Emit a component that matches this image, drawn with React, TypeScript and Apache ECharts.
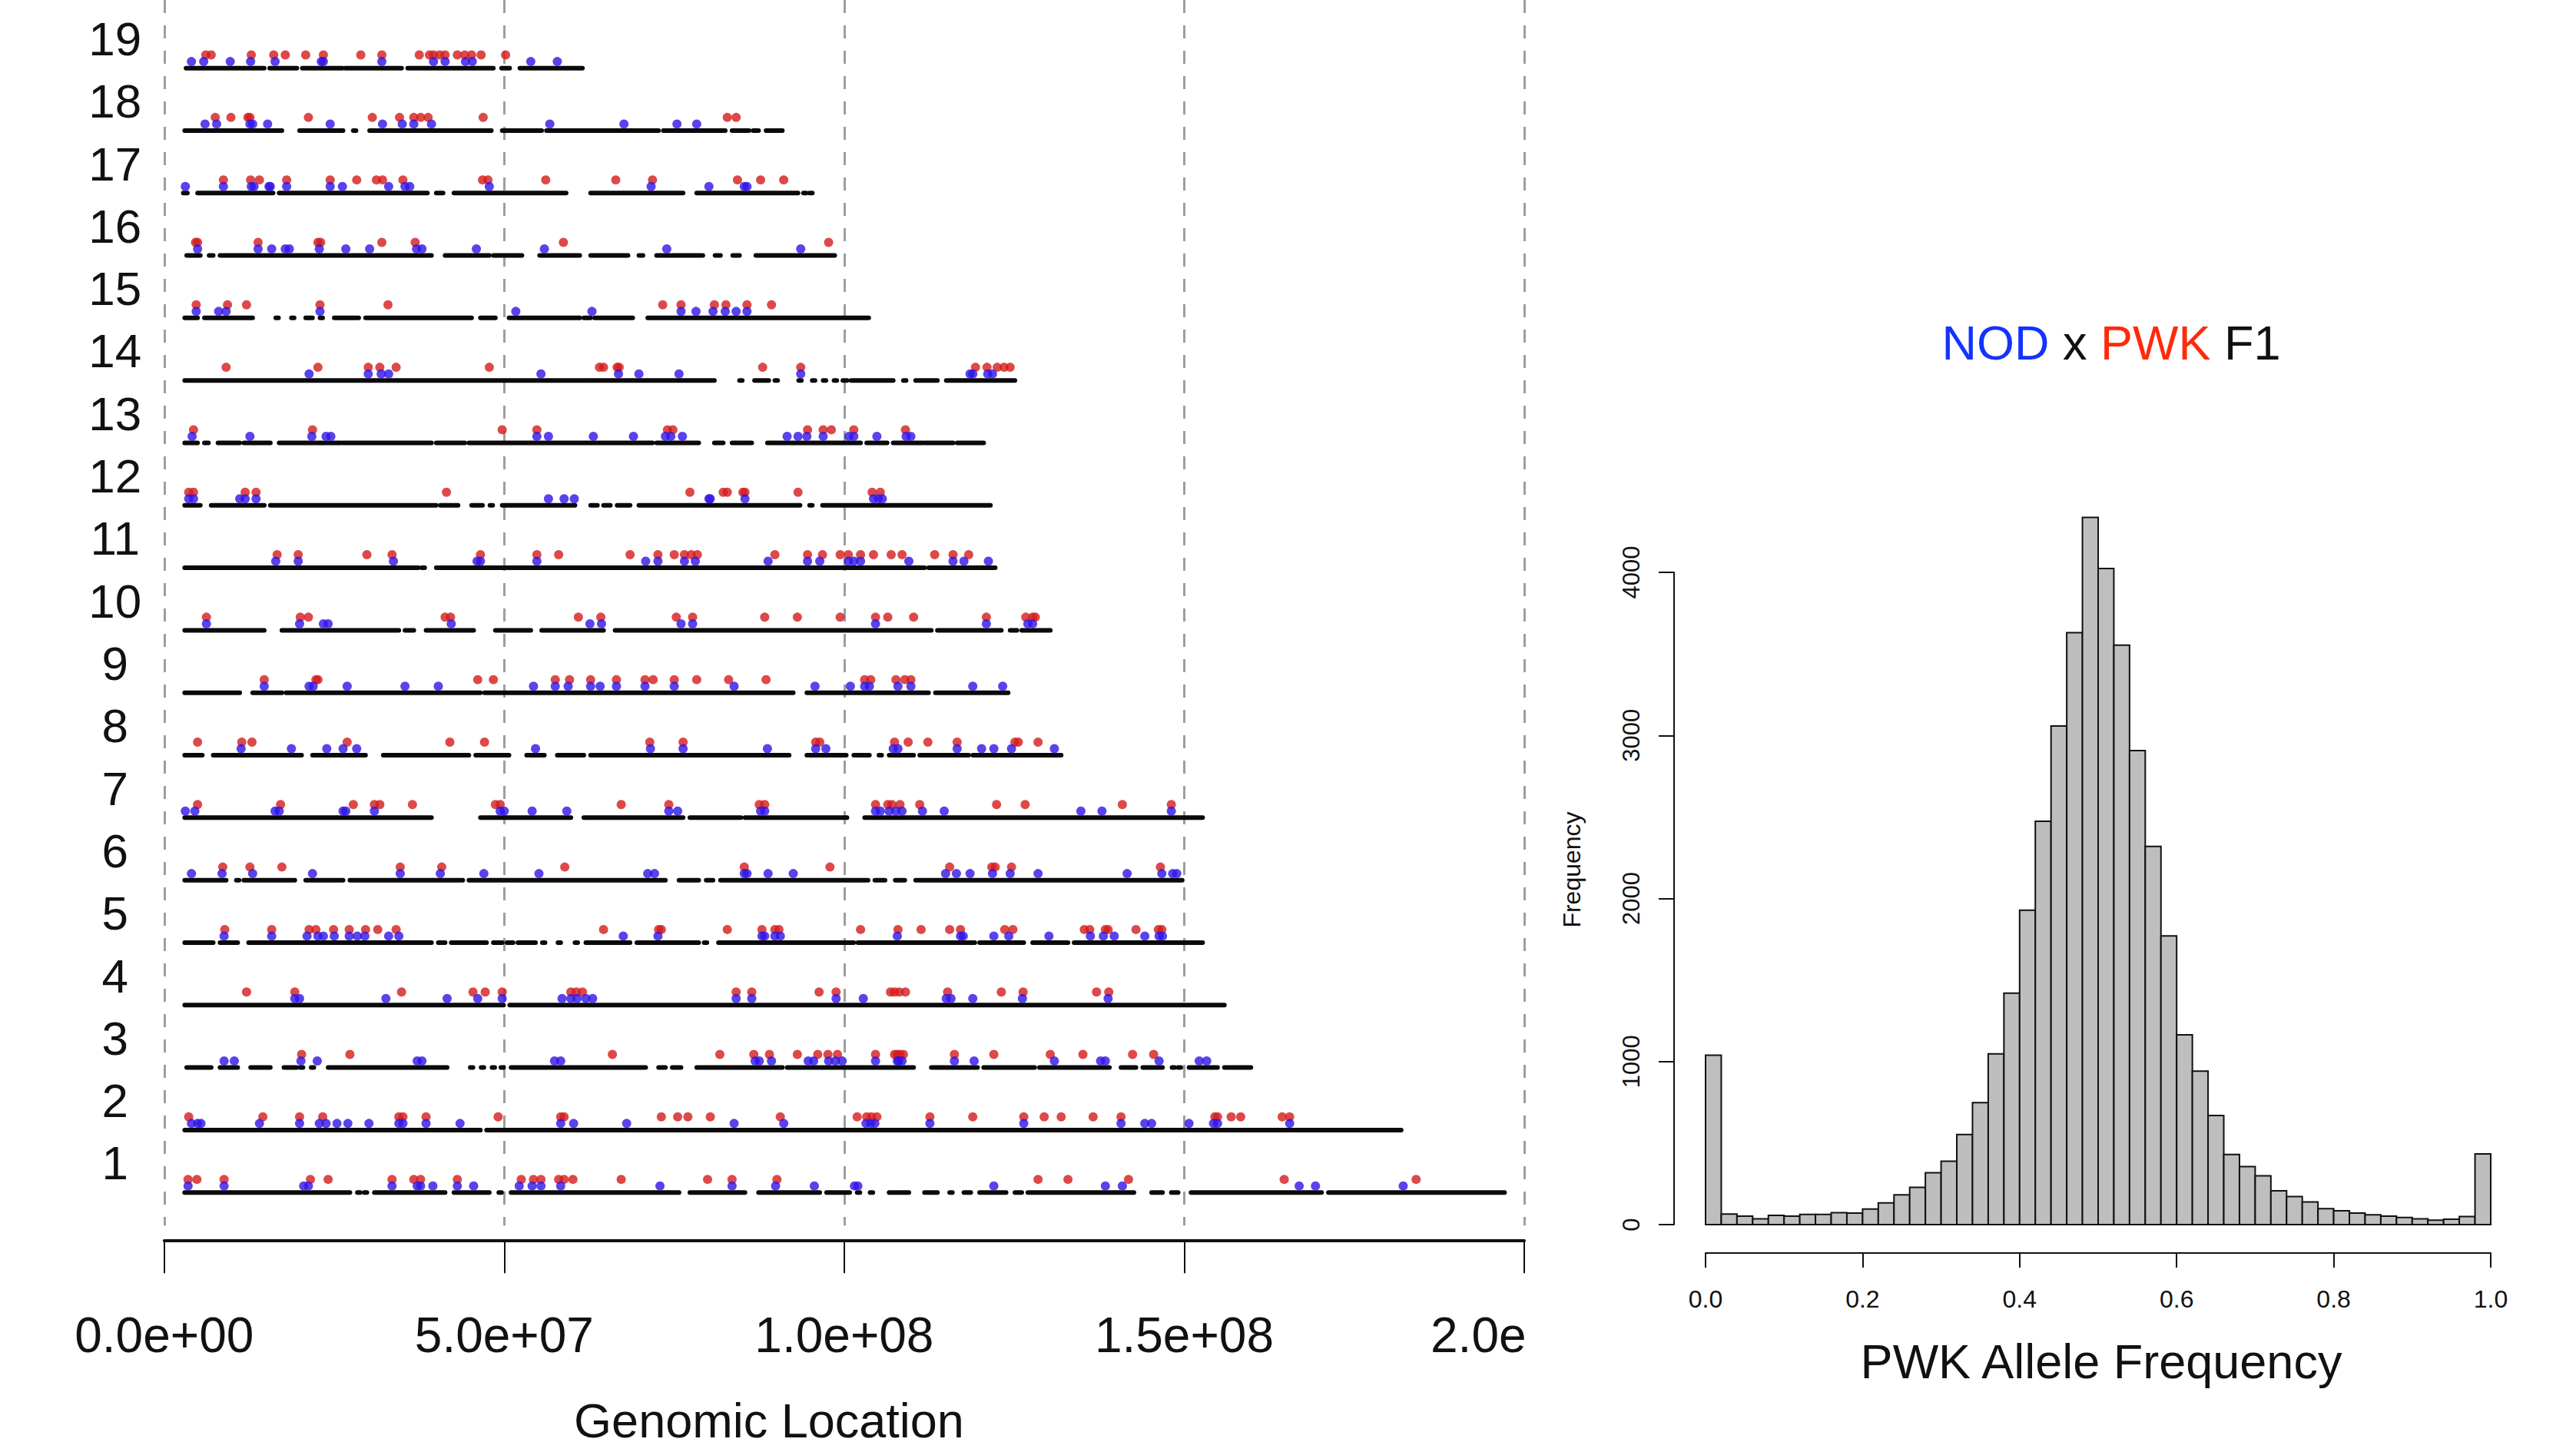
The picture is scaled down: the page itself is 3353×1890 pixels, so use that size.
import React, { useEffect, useRef } from 'react';
import * as echarts from 'echarts';

const FONT = '"Liberation Sans", Arial, Helvetica, sans-serif';

// ---------- Left panel: chromosome rows (positions in Mb) ----------
const runs1 = [[3.0,27.3],[28.4,28.8],[29.4,29.8],[30.9,41.3],[42.6,47.8],[49.2,49.6],[51.0,75.7],[77.3,85.4],[87.4,96.4],[97.4,100.8],[101.9,102.3],[103.8,104.2],[106.6,109.5],[111.8,113.7],[115.5,115.9],[117.6,118.6],[119.9,123.8],[125.1,126.1],[127.0,142.6],[145.2,146.8],[148.1,149.1],[151.0,170.2],[171.2,197.1]];
const nod1 = [3.5,8.8,20.5,21.2,33.5,37.2,37.7,39.5,43.1,45.5,52.2,54.1,55.4,58.3,72.9,83.5,89.9,95.6,101.5,102.0,122.0,138.4,140.9,166.9,169.3,182.2];
const pwk1 = [3.5,4.8,8.8,21.5,24.1,33.5,36.7,37.7,43.1,52.5,54.3,55.4,58.0,58.8,60.1,67.2,79.9,83.5,90.1,128.5,132.9,141.8,164.7,184.1];

const runs2 = [[3.0,46.5],[47.4,181.9]];
const nod2 = [4.0,4.9,5.4,14.0,19.9,22.8,23.8,25.4,27.0,30.1,34.5,35.1,38.5,43.5,58.3,60.2,68.0,83.8,91.1,103.2,103.9,104.5,112.6,126.4,140.7,144.2,145.2,150.7,154.3,154.9,165.5];
const pwk2 = [3.6,14.5,19.9,23.3,34.5,35.1,38.5,49.1,58.3,58.8,73.1,75.5,77.0,80.3,90.6,101.9,103.3,104.0,104.8,112.6,118.9,126.4,129.4,131.9,136.6,140.7,154.5,154.9,156.9,158.3,164.4,165.5];

const runs3 = [[3.3,6.9],[8.2,10.8],[12.7,15.6],[17.6,19.5],[20.0,20.4],[21.6,22.0],[24.1,41.6],[45.0,45.4],[46.6,47.0],[48.2,48.6],[49.5,49.9],[51.0,70.8],[72.7,73.7],[74.7,76.0],[78.3,90.9],[91.6,110.2],[112.8,119.6],[120.5,128.0],[128.7,139.0],[140.7,142.9],[143.9,146.8],[148.2,148.6],[149.1,149.5],[150.7,154.9],[155.9,159.8]];
const nod3 = [8.8,10.3,20.1,22.5,37.2,37.9,57.4,58.3,86.9,87.5,89.3,94.7,95.5,97.7,98.7,99.7,104.6,107.8,108.0,108.5,116.2,119.1,130.9,137.7,138.4,146.3,152.2,153.3];
const pwk3 = [20.2,27.3,65.9,81.7,86.7,89.0,93.1,96.1,97.6,99.0,104.6,107.4,107.8,108.2,108.7,116.2,122.0,130.3,135.1,142.4,145.5];

const runs4 = [[3.0,49.9],[50.8,155.9]];
const nod4 = [19.2,19.9,32.6,41.6,46.1,49.7,58.5,59.8,60.7,62.0,63.0,84.1,86.4,98.8,102.8,115.0,115.7,118.9,126.2,138.8];
const pwk4 = [12.1,19.2,34.9,45.4,47.2,49.7,59.8,60.6,61.5,84.1,86.4,96.3,98.8,106.8,107.4,108.1,109.0,115.2,123.1,126.3,137.1,138.9];

const runs5 = [[3.0,7.2],[8.2,10.8],[12.4,39.3],[40.3,41.3],[42.2,47.4],[48.4,49.7],[50.4,51.3],[52.0,54.6],[55.6,56.0],[57.9,58.3],[60.4,60.8],[62.0,68.5],[69.5,78.6],[79.4,79.8],[81.5,101.4],[102.0,119.2],[119.9,126.4],[127.7,132.9],[133.8,152.7]];
const nod5 = [8.8,15.8,21.0,22.6,23.4,25.0,27.2,28.4,29.5,33.0,34.5,67.5,72.6,87.9,88.3,89.8,90.6,107.8,117.1,117.5,122.0,124.2,130.1,136.2,138.1,139.7,144.2,146.3,146.8];
const pwk5 = [8.9,15.8,21.3,22.3,24.9,27.2,29.6,31.4,34.1,64.6,72.7,73.1,82.8,87.9,89.8,90.4,102.4,107.9,111.3,115.5,117.1,123.6,124.8,135.3,136.1,138.4,138.8,142.9,146.2,146.7];

const runs6 = [[3.0,9.1],[10.6,11.0],[11.7,19.2],[20.8,26.3],[27.3,43.9],[44.8,73.7],[75.7,78.6],[79.7,80.7],[81.8,103.5],[104.5,106.0],[107.5,108.9],[110.5,149.7]];
const nod6 = [4.0,8.5,13.0,21.8,34.7,40.6,47.0,55.1,71.1,72.1,85.3,85.7,88.8,92.5,114.9,116.5,118.5,121.8,124.4,128.5,141.6,146.7,148.3,148.9];
const pwk6 = [8.6,12.6,17.3,34.7,40.8,58.9,85.3,97.9,115.5,121.7,122.2,124.6,146.5];

const runs7 = [[3.0,39.3],[46.5,59.8],[61.7,76.3],[77.3,84.8],[85.4,100.4],[103.0,152.7]];
const nod7 = [3.1,4.5,16.3,16.9,26.3,26.7,30.9,49.4,50.0,54.1,59.2,74.2,75.5,87.7,88.3,104.6,105.3,106.6,107.6,108.5,111.5,114.7,134.8,137.9,148.1];
const pwk7 = [4.9,17.1,27.8,30.9,31.7,36.5,48.7,49.4,67.2,74.2,87.5,88.3,104.6,106.4,107.0,108.2,111.1,122.4,126.6,140.9,148.1];

const runs8 = [[3.0,5.6],[7.2,20.2],[21.8,29.6],[32.2,44.8],[45.8,50.7],[53.3,55.9],[57.8,61.7],[62.7,91.9],[94.5,100.3],[101.4,103.7],[105.1,105.5],[106.6,110.2],[111.1,118.3],[118.9,131.9]];
const nod8 = [11.3,18.7,23.9,26.3,28.3,54.6,71.5,76.3,88.7,95.8,97.3,107.2,107.9,116.6,120.2,122.0,124.6,130.9];
const pwk8 = [4.9,11.4,12.9,26.9,42.0,47.1,71.4,76.3,95.8,96.4,107.4,109.4,112.3,116.6,125.1,125.6,128.5];

const runs9 = [[3.0,11.1],[13.0,17.3],[17.9,46.5],[47.1,92.5],[94.5,112.4],[113.4,124.1]];
const nod9 = [14.7,21.3,21.9,26.9,35.4,40.3,54.3,57.5,59.4,62.7,64.1,66.5,70.7,75.0,83.8,95.7,100.9,103.0,103.7,107.9,109.8,118.9,123.3];
const pwk9 = [14.7,22.3,22.6,46.1,48.4,57.5,59.6,62.7,66.5,70.7,71.9,75.0,78.3,83.0,88.5,103.0,103.9,107.6,108.9,109.8];

const runs10 = [[3.0,14.7],[17.3,34.5],[35.4,36.7],[38.5,45.5],[48.7,53.9],[55.5,64.6],[66.3,112.8],[113.7,123.1],[124.4,125.4],[126.1,130.3]];
const nod10 = [6.2,19.9,23.4,24.1,42.2,62.6,64.3,76.0,77.7,104.6,120.9,127.0,127.7];
const pwk10 = [6.2,20.0,21.2,41.3,42.1,60.9,64.2,75.3,77.7,88.3,93.1,99.4,104.6,106.4,110.2,120.9,126.7,127.7,128.1];

const runs11 = [[3.0,37.4],[37.9,38.3],[40.0,111.8],[112.4,122.2]];
const nod11 = [16.4,19.7,33.7,46.0,46.5,54.8,70.8,72.6,76.5,78.1,88.8,94.6,96.4,100.6,101.4,102.4,109.5,116.0,117.6,121.2];
const pwk11 = [16.6,19.7,29.8,33.5,46.5,54.8,58.0,68.5,72.6,75.0,76.5,77.5,78.4,89.8,94.6,96.8,99.4,100.6,102.4,104.3,106.9,108.5,113.3,116.0,118.3];

const runs12 = [[3.0,5.3],[6.9,14.7],[15.6,40.0],[40.6,43.2],[45.2,46.8],[47.9,48.3],[49.7,60.4],[62.7,63.7],[64.6,65.6],[66.6,68.5],[69.8,93.5],[94.9,95.3],[96.8,121.5]];
const nod12 = [3.6,4.3,11.1,11.9,13.5,56.5,58.8,60.3,80.1,80.3,85.4,104.3,105.0,105.6];
const pwk12 = [3.6,4.3,11.9,13.5,41.5,77.3,82.2,82.8,85.1,85.4,93.2,104.1,105.3];

const runs13 = [[3.0,4.9],[5.9,6.5],[7.9,11.1],[11.7,15.6],[16.9,26.0],[26.3,39.3],[40.0,44.2],[44.8,71.8],[72.4,78.6],[80.9,82.2],[83.5,86.4],[88.7,102.4],[103.3,106.3],[107.2,111.5],[111.8,116.0],[116.6,120.5]];
const nod13 = [4.1,12.6,21.7,23.8,24.5,54.8,56.5,63.1,69.0,73.7,74.5,76.2,91.6,93.2,94.5,96.9,100.7,101.4,104.8,109.1,109.8];
const pwk13 = [4.3,21.8,49.7,54.8,74.0,74.8,94.6,96.9,98.1,101.4,109.0];

const runs14 = [[3.0,80.9],[84.6,85.0],[86.8,88.9],[89.8,90.2],[93.3,93.7],[95.3,95.7],[96.9,97.3],[98.5,98.9],[99.8,100.4],[101.0,107.2],[108.7,109.1],[110.5,113.7],[115.0,125.1]];
const nod14 = [21.3,30.0,31.9,33.0,55.4,66.8,69.8,75.7,93.6,118.5,118.9,121.1,121.8];
const pwk14 = [9.1,22.6,30.0,31.7,34.1,47.8,64.0,64.6,66.6,66.9,88.0,93.6,119.3,121.0,122.5,123.5,124.4];

const runs15 = [[3.0,4.9],[5.9,13.0],[16.4,16.8],[18.7,19.1],[20.8,21.8],[22.9,23.3],[25.0,28.6],[29.6,45.2],[46.5,48.7],[50.7,61.1],[61.7,62.7],[63.3,68.9],[71.1,103.6]];
const nod15 = [4.7,8.0,9.1,22.9,51.7,62.9,76.0,78.2,80.7,82.5,84.1,85.7];
const pwk15 = [4.7,9.3,12.1,22.9,32.9,73.3,76.0,80.9,82.6,85.7,89.3];

const runs16 = [[3.3,5.3],[6.6,7.2],[8.2,39.3],[41.3,47.8],[48.4,52.6],[55.2,61.1],[62.7,68.2],[69.8,70.4],[72.4,79.2],[81.0,81.8],[83.6,84.6],[87.0,98.6]];
const nod16 = [4.9,13.8,15.8,17.8,18.4,22.8,26.7,30.2,37.1,37.9,45.9,55.9,73.9,93.6];
const pwk16 = [4.6,4.9,13.8,22.6,23.0,32.0,36.9,58.7,97.7];

const runs17 = [[2.8,3.4],[4.9,16.0],[16.9,38.7],[40.0,41.0],[42.6,59.1],[62.7,76.3],[78.3,93.2],[94.0,94.4],[94.9,95.3]];
const nod17 = [3.1,8.7,12.8,13.2,15.4,15.6,18.0,24.4,26.2,33.0,35.4,36.1,47.8,71.6,80.1,85.3,85.7];
const pwk17 = [8.7,12.7,14.0,18.0,24.4,28.3,31.2,32.1,35.1,46.8,47.6,56.1,66.4,71.8,84.3,87.7,91.1];

const runs18 = [[3.0,17.3],[19.9,26.3],[27.8,28.2],[30.2,48.1],[49.7,55.5],[56.2,72.7],[73.4,82.5],[83.5,86.0],[86.6,87.4],[88.5,90.9]];
const nod18 = [6.0,7.7,12.6,13.0,15.2,24.4,32.1,35.0,36.7,39.3,56.7,67.6,75.4,78.3];
const pwk18 = [7.5,9.8,12.3,12.6,21.2,30.6,34.6,36.7,37.7,38.8,46.9,82.8,84.1];

const runs19 = [[3.2,14.7],[15.5,19.5],[20.3,26.2],[26.6,34.9],[35.8,48.4],[49.6,50.8],[52.3,61.5]];
const nod19 = [4.0,5.8,9.7,12.7,16.3,23.1,23.4,32.0,39.6,41.3,44.3,45.3,53.9,57.8];
const pwk19 = [6.1,6.9,12.8,16.1,17.8,20.8,23.4,28.9,32.0,37.5,39.0,39.6,40.5,41.3,43.1,44.2,45.2,46.6,50.2];

const chromRuns = [runs1, runs2, runs3, runs4, runs5, runs6, runs7, runs8, runs9, runs10, runs11, runs12, runs13, runs14, runs15, runs16, runs17, runs18, runs19];
const chromNod = [nod1, nod2, nod3, nod4, nod5, nod6, nod7, nod8, nod9, nod10, nod11, nod12, nod13, nod14, nod15, nod16, nod17, nod18, nod19];
const chromPwk = [pwk1, pwk2, pwk3, pwk4, pwk5, pwk6, pwk7, pwk8, pwk9, pwk10, pwk11, pwk12, pwk13, pwk14, pwk15, pwk16, pwk17, pwk18, pwk19];

const xTicks = [0, 5e7, 1e8, 1.5e8, 2e8];
// the right-most tick label is cut at the panel edge in the source figure
const lastTickVisible = '2.0e';

// ---------- Right panel: histogram ----------
const histCounts = [1039, 65, 52, 35, 57, 52, 63, 63, 73, 71, 95, 133, 182, 228, 318, 389, 552, 748, 1047, 1419, 1928, 2474, 3058, 3630, 4337, 4024, 3554, 2907, 2319, 1770, 1164, 941, 669, 430, 356, 299, 207, 172, 139, 98, 85, 71, 60, 52, 44, 35, 27, 33, 49, 433];
const binWidth = 0.02;
const histXTicks = [0, 0.2, 0.4, 0.6, 0.8, 1.0];
const histYTicks = [0, 1000, 2000, 3000, 4000];

const BLACK_OFF = -0.47;
const NOD_OFF = -0.365;
const PWK_OFF = -0.26;

function sci(v: number): string {
  const [m, e] = v.toExponential(1).split('e');
  const n = parseInt(e, 10);
  return m + 'e' + (n < 0 ? '-' : '+') + String(Math.abs(n)).padStart(2, '0');
}

const LEFT_W = 1995;

export default function App() {
  const leftRef = useRef<HTMLDivElement>(null);
  const rightRef = useRef<HTMLDivElement>(null);

  useEffect(() => {
    document.body.style.margin = '0';
    const left = echarts.init(leftRef.current!, null, { renderer: 'svg' });
    const right = echarts.init(rightRef.current!, null, { renderer: 'svg' });

    const runData: number[][] = [];
    const nodData: number[][] = [];
    const pwkData: number[][] = [];
    chromRuns.forEach((runs, i) => {
      const c = i + 1;
      runs.forEach(r => runData.push([r[0] * 1e6, r[1] * 1e6, c + BLACK_OFF]));
    });
    chromNod.forEach((arr, i) => arr.forEach(p => nodData.push([p * 1e6, i + 1 + NOD_OFF])));
    chromPwk.forEach((arr, i) => arr.forEach(p => pwkData.push([p * 1e6, i + 1 + PWK_OFF])));

    const xMax = xTicks[xTicks.length - 1];

    left.setOption({
      animation: false,
      backgroundColor: '#ffffff',
      grid: { left: 213.8, top: 0, width: 1770.2, height: 1595.3, containLabel: false, outerBoundsMode: 'none' },
      xAxis: {
        type: 'value',
        min: xTicks[0],
        max: xMax,
        interval: xTicks[1] - xTicks[0],
        offset: 19,
        axisLine: { show: true, onZero: false, lineStyle: { color: '#111', width: 4 } },
        axisTick: { show: true, length: 43, lineStyle: { color: '#111', width: 2 } },
        axisLabel: {
          show: true,
          margin: 92,
          fontSize: 64,
          fontFamily: FONT,
          color: '#111',
          hideOverlap: false,
          formatter: (v: number) => (v >= xMax ? '' : sci(v)),
        },
        splitLine: { show: true, lineStyle: { color: '#9e9e9e', width: 3, type: [17, 16] } },
      },
      yAxis: {
        type: 'value',
        min: 0,
        max: 19.62,
        interval: 1,
        axisLine: { show: false },
        axisTick: { show: false },
        splitLine: { show: false },
        axisLabel: {
          show: true,
          align: 'center',
          margin: 64,
          fontSize: 62,
          fontFamily: FONT,
          color: '#111',
          formatter: (v: number) => (Number.isInteger(v) && v >= 1 && v <= 19 ? String(v) : ''),
        },
      },
      series: [
        {
          type: 'custom',
          name: 'snps',
          encode: { x: [0, 1], y: 2 },
          data: runData,
          renderItem: (params: any, api: any) => {
            const s = api.coord([api.value(0), api.value(2)]);
            const e = api.coord([api.value(1), api.value(2)]);
            return {
              type: 'line',
              shape: { x1: s[0], y1: s[1], x2: e[0], y2: e[1] },
              style: { stroke: '#0a0a0a', lineWidth: 6, lineCap: 'round' },
            };
          },
          z: 1,
        },
        {
          type: 'scatter',
          name: 'PWK',
          data: pwkData,
          symbol: 'circle',
          symbolSize: 12,
          itemStyle: { color: '#d41c1c' },
          z: 2,
        },
        {
          type: 'scatter',
          name: 'NOD',
          data: nodData,
          symbol: 'circle',
          symbolSize: 12,
          itemStyle: { color: '#2f14e6' },
          z: 3,
        },
      ],
      graphic: [
        {
          type: 'text',
          x: 1001,
          y: 1849,
          style: {
            text: 'Genomic Location',
            fontSize: 63,
            fontFamily: FONT,
            fill: '#111',
            align: 'center',
            verticalAlign: 'middle',
          },
        },
        {
          type: 'text',
          x: 1862,
          y: 1738,
          style: {
            text: lastTickVisible,
            fontSize: 64,
            fontFamily: FONT,
            fill: '#111',
            align: 'left',
            verticalAlign: 'middle',
          },
        },
      ],
    });

    const OX = LEFT_W;
    const histData = histCounts.map((c, i) => [i * binWidth, (i + 1) * binWidth, c]);

    right.setOption({
      animation: false,
      backgroundColor: '#ffffff',
      grid: { left: 2220 - OX, top: 745, width: 1022, height: 849, containLabel: false, outerBoundsMode: 'none' },
      xAxis: {
        type: 'value',
        min: histXTicks[0],
        max: histXTicks[histXTicks.length - 1],
        interval: 0.2,
        offset: 37,
        axisLine: { show: true, onZero: false, lineStyle: { color: '#111', width: 2 } },
        axisTick: { show: true, length: 19, lineStyle: { color: '#111', width: 2 } },
        axisLabel: {
          margin: 44,
          fontSize: 32,
          fontFamily: FONT,
          color: '#111',
          formatter: (v: number) => v.toFixed(1),
        },
        splitLine: { show: false },
      },
      yAxis: {
        type: 'value',
        min: histYTicks[0],
        max: histYTicks[histYTicks.length - 1],
        interval: 1000,
        offset: 41,
        axisLine: { show: true, onZero: false, lineStyle: { color: '#111', width: 2 } },
        axisTick: { show: true, length: 20, lineStyle: { color: '#111', width: 2 } },
        axisLabel: {
          rotate: 90,
          margin: 40,
          fontSize: 31,
          fontFamily: FONT,
          color: '#111',
          formatter: (v: number) => String(v),
        },
        splitLine: { show: false },
      },
      series: [
        {
          type: 'custom',
          name: 'hist',
          encode: { x: [0, 1], y: 2 },
          data: histData,
          clip: false,
          renderItem: (params: any, api: any) => {
            const p0 = api.coord([api.value(0), api.value(2)]);
            const p1 = api.coord([api.value(1), 0]);
            return {
              type: 'rect',
              shape: { x: p0[0], y: p0[1], width: p1[0] - p0[0], height: p1[1] - p0[1] },
              style: { fill: '#bebebe', stroke: '#111', lineWidth: 2 },
            };
          },
        },
      ],
      graphic: [
        {
          type: 'text',
          x: 2748 - OX,
          y: 446,
          style: {
            text: '{b|NOD} {k|x} {r|PWK} {k|F1}',
            fontSize: 63,
            fontFamily: FONT,
            align: 'center',
            verticalAlign: 'middle',
            rich: {
              b: { fill: '#1432ff', fontSize: 63, fontFamily: FONT },
              r: { fill: '#ff2a0a', fontSize: 63, fontFamily: FONT },
              k: { fill: '#111', fontSize: 63, fontFamily: FONT },
            },
          },
        },
        {
          type: 'text',
          x: 2735 - OX,
          y: 1772,
          style: {
            text: 'PWK Allele Frequency',
            fontSize: 63,
            fontFamily: FONT,
            fill: '#111',
            align: 'center',
            verticalAlign: 'middle',
          },
        },
        {
          type: 'text',
          x: 2046 - OX,
          y: 1132,
          rotation: Math.PI / 2,
          style: {
            text: 'Frequency',
            fontSize: 32,
            fontFamily: FONT,
            fill: '#111',
            align: 'center',
            verticalAlign: 'middle',
          },
        },
      ],
    });

    return () => {
      left.dispose();
      right.dispose();
    };
  }, []);

  return (
    <div style={{ position: 'relative', width: 3353, height: 1890, background: '#fff', overflow: 'hidden' }}>
      <div ref={leftRef} style={{ position: 'absolute', left: 0, top: 0, width: LEFT_W, height: 1890, overflow: 'hidden' }} />
      <div ref={rightRef} style={{ position: 'absolute', left: LEFT_W, top: 0, width: 3353 - LEFT_W, height: 1890 }} />
    </div>
  );
}
